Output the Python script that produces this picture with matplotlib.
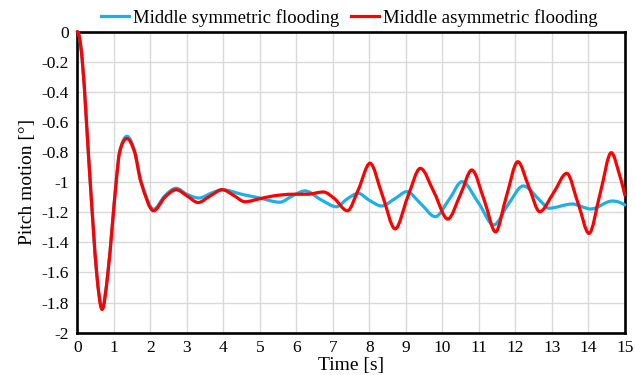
import numpy as np
import matplotlib
matplotlib.use("Agg")
import matplotlib.pyplot as plt
from matplotlib.path import Path
from matplotlib.patches import PathPatch
from matplotlib.lines import Line2D

plt.rcParams["font.family"] = ["Liberation Serif", "DejaVu Serif"]

# values (extrema and in-between points)
t_sym = [0, 0.14, 0.355, 0.53, 0.68, 0.84, 1.065, 1.16, 1.36,
         1.57, 1.745, 2.09, 2.40, 2.71, 3.0,
         3.33, 3.70, 3.98, 4.5, 5.0, 5.55, 5.90, 6.24, 6.70, 7.10, 7.40, 7.70,
         8.0, 8.34, 8.70, 9.03, 9.40, 9.81, 10.20, 10.54, 11.0, 11.41, 11.80,
         12.22, 12.69, 12.92, 13.56, 14.07, 14.66, 15.0]
v_sym = [0, -0.2, -1.0, -1.6, -1.835, -1.6, -1.0, -0.8, -0.695,
         -0.79, -0.99, -1.18, -1.09, -1.04, -1.08,
         -1.105, -1.07, -1.05, -1.08, -1.105, -1.133, -1.09, -1.058, -1.12, -1.163, -1.11, -1.074,
         -1.12, -1.158, -1.11, -1.063, -1.14, -1.229, -1.11, -0.997, -1.14, -1.284, -1.15,
         -1.025, -1.125, -1.173, -1.145, -1.178, -1.125, -1.151]

t_asym = [0, 0.14, 0.355, 0.53, 0.68, 0.84, 1.065, 1.16, 1.36,
          1.57, 1.745, 2.09, 2.40, 2.71, 3.0,
          3.31, 3.65, 3.97, 4.30, 4.59, 5.0, 5.40, 5.90, 6.30, 6.74, 7.05, 7.40,
          7.70, 8.02, 8.35, 8.71, 9.05, 9.40, 9.78, 10.15, 10.50, 10.81, 11.15,
          11.46, 11.75, 12.07, 12.37, 12.67, 13.05, 13.41, 13.72, 14.02, 14.33,
          14.63, 14.87, 15.0]
v_asym = [0, -0.2, -1.0, -1.6, -1.845, -1.6, -1.0, -0.8, -0.71,
          -0.8, -1.0, -1.19, -1.10, -1.05, -1.09,
          -1.135, -1.09, -1.05, -1.09, -1.13, -1.11, -1.09, -1.08, -1.08, -1.065, -1.11, -1.19,
          -1.05, -0.874, -1.08, -1.31, -1.10, -0.908, -1.07, -1.245, -1.08, -0.919, -1.12,
          -1.33, -1.10, -0.864, -1.03, -1.196, -1.07, -0.941, -1.14, -1.34, -1.07,
          -0.804, -0.963, -1.085]

x_ticks = list(range(0, 16))
y_ticks = [0, -0.2, -0.4, -0.6, -0.8, -1, -1.2, -1.4, -1.6, -1.8, -2]
y_labels = ["0", "-0.2", "-0.4", "-0.6", "-0.8", "-1", "-1.2", "-1.4", "-1.6", "-1.8", "-2"]

blue = "#1cb0e6"
red = "#ff0000"


def smooth_path(t, v):
    # excel-like smoothed line: cubic bezier segments through the points
    t = np.asarray(t, float)
    v = np.asarray(v, float)
    n = len(t)
    d = np.diff(v) / np.diff(t)
    m = np.zeros(n)
    for i in range(1, n - 1):
        if d[i - 1] * d[i] > 0:
            m[i] = (v[i + 1] - v[i - 1]) / (t[i + 1] - t[i - 1])
    # ends: let the curve bend into the first / last segment
    m[0] = 2 * d[0] - m[1]
    if m[0] * d[0] < 0:
        m[0] = 0
    m[-1] = 2 * d[-1] - m[-2]
    if m[-1] * d[-1] < 0:
        m[-1] = 0
    verts = [(t[0], v[0])]
    codes = [Path.MOVETO]
    for i in range(n - 1):
        h = (t[i + 1] - t[i]) / 3
        verts += [(t[i] + h, v[i] + h * m[i]),
                  (t[i + 1] - h, v[i + 1] - h * m[i + 1]),
                  (t[i + 1], v[i + 1])]
        codes += [Path.CURVE4] * 3
    return Path(verts, codes)


fig = plt.figure(figsize=(6.35, 3.75), dpi=100)
ax = fig.add_axes([0.1217, 0.1128, 0.8622, 0.8027])

ax.add_patch(PathPatch(smooth_path(t_sym, v_sym), fill=False, edgecolor=blue,
                       lw=2.3, zorder=3, clip_on=False, capstyle="round"))
ax.add_patch(PathPatch(smooth_path(t_asym, v_asym), fill=False, edgecolor=red,
                       lw=2.3, zorder=4, clip_on=False, capstyle="round"))

ax.set_xlim(0, 15)
ax.set_ylim(-2, 0)
ax.set_xticks(x_ticks)
ax.set_yticks(y_ticks)
ax.set_yticklabels(y_labels)
ax.tick_params(length=0, labelsize=12.5)
ax.tick_params(axis="x", pad=5)
ax.tick_params(axis="y", pad=6)
ax.grid(True, color="#d9d9d9", lw=1)
ax.set_axisbelow(True)
for s in ax.spines.values():
    s.set_linewidth(1.9)
    s.set_color("black")

ax.set_xlabel("Time [s]", fontsize=14, labelpad=1)
ax.set_ylabel("Pitch motion [°]", fontsize=14, labelpad=4)

handles = [Line2D([], [], color=blue, lw=2.3), Line2D([], [], color=red, lw=2.3)]
fig.legend(handles, ["Middle symmetric flooding", "Middle asymmetric flooding"],
           loc="center", bbox_to_anchor=(0.55, 0.953), ncol=2, frameon=False,
           fontsize=13.5, handlelength=1.5, handletextpad=0.2, columnspacing=0.6)

fig.savefig("out.png", dpi=100)
